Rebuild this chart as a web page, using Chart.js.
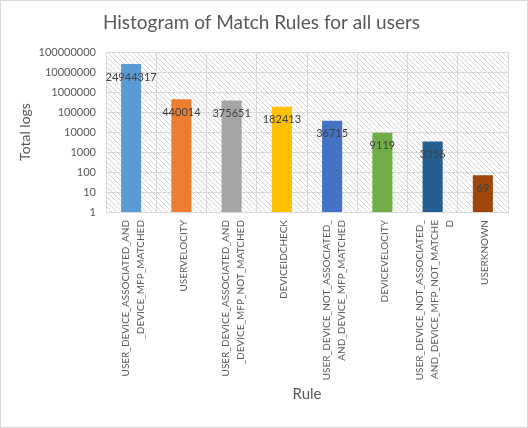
<!DOCTYPE html>
<html>
<head>
<meta charset="utf-8">
<script src="https://cdn.jsdelivr.net/npm/chart.js@4.4.1/dist/chart.umd.min.js"></script>
<style>
  html, body { margin: 0; padding: 0; background: #ffffff; }
  #wrap { width: 528px; height: 428px; position: relative; }
</style>
</head>
<body>
<div id="wrap"><canvas id="c" width="528" height="428"></canvas></div>
<script>
const categories = [
  ["USER_DEVICE_ASSOCIATED_AND", "_DEVICE_MFP_MATCHED"],
  ["USERVELOCITY"],
  ["USER_DEVICE_ASSOCIATED_AND", "_DEVICE_MFP_NOT_MATCHED"],
  ["DEVICEIDCHECK"],
  ["USER_DEVICE_NOT_ASSOCIATED_", "AND_DEVICE_MFP_MATCHED"],
  ["DEVICEVELOCITY"],
  ["USER_DEVICE_NOT_ASSOCIATED_", "AND_DEVICE_MFP_NOT_MATCHE", "D"],
  ["USERKNOWN"]
];
const totalLogs = [24944317, 440014, 375651, 182413, 36715, 9119, 3356, 69];
const barColors = ["#5B9BD5", "#ED7D31", "#A5A5A5", "#FFC000", "#4472C4", "#70AD47", "#255E91", "#9E480E"];
const yTicks = [1, 10, 100, 1000, 10000, 100000, 1000000, 10000000, 100000000];
const titleText = "Histogram of Match Rules for all users";
const yTitle = "Total logs";
const xTitle = "Rule";

const FONT = "Lato";
const TEXT = "#595959";
const GRID = "#d9d9d9";

function makeHatch() {
  const t = document.createElement('canvas');
  t.width = 5; t.height = 5;
  const g = t.getContext('2d');
  g.fillStyle = '#ffffff';
  g.fillRect(0, 0, 5, 5);
  g.fillStyle = '#d4d4d4';
  for (let i = 0; i < 5; i++) g.fillRect(i, i, 1, 1);
  return t;
}

const bgPlugin = {
  id: 'bg',
  beforeDraw(chart) {
    const ctx = chart.ctx, a = chart.chartArea;
    ctx.save();
    ctx.fillStyle = '#ffffff';
    ctx.fillRect(0, 0, chart.width, chart.height);
    ctx.fillStyle = ctx.createPattern(makeHatch(), 'repeat');
    ctx.fillRect(a.left, a.top, a.right - a.left, a.bottom - a.top);
    ctx.restore();
  },
  afterDraw(chart) {
    const ctx = chart.ctx;
    ctx.save();
    ctx.strokeStyle = GRID;
    ctx.lineWidth = 1;
    ctx.strokeRect(0.5, 0.5, chart.width - 1, chart.height - 1);
    // x category labels (rotated, multi-line, centred as a group)
    const xs = chart.scales.x;
    ctx.fillStyle = TEXT;
    ctx.font = "10px " + FONT;
    ctx.textAlign = 'right';
    ctx.textBaseline = 'middle';
    const lh = 15;
    categories.forEach((lines, i) => {
      const px = xs.getPixelForTick(i);
      const n = lines.length;
      lines.forEach((ln, j) => {
        const cx = px + 2 + (j - (n - 1) / 2) * lh;
        ctx.save();
        ctx.translate(cx, chart.chartArea.bottom + 8);
        ctx.rotate(-Math.PI / 2);
        ctx.fillText(ln, 0, 0);
        ctx.restore();
      });
    });
    ctx.restore();
  },
  afterDatasetsDraw(chart) {
    const ctx = chart.ctx;
    const meta = chart.getDatasetMeta(0);
    ctx.save();
    ctx.fillStyle = "#404040";
    ctx.font = "11px " + FONT;
    ctx.textAlign = 'center';
    ctx.textBaseline = 'middle';
    meta.data.forEach((bar, i) => {
      ctx.fillText(String(totalLogs[i]), bar.x, bar.y + 13);
    });
    ctx.restore();
  }
};

new Chart(document.getElementById('c'), {
  type: 'bar',
  data: {
    labels: categories,
    datasets: [{
      data: totalLogs,
      backgroundColor: barColors,
      borderWidth: 0,
      barPercentage: 0.4,
      categoryPercentage: 1.0
    }]
  },
  options: {
    responsive: false,
    animation: false,
    devicePixelRatio: 1,
    layout: { padding: { left: 15, right: 20, top: 0, bottom: 0 } },
    plugins: {
      legend: { display: false },
      tooltip: { enabled: false },
      title: {
        display: true,
        text: titleText,
        color: TEXT,
        font: { family: FONT, size: 19, weight: 'normal' },
        padding: { top: 11.6, bottom: 17.6 }
      }
    },
    scales: {
      x: {
        type: 'category',
        grid: { color: GRID, drawTicks: false, offset: true },
        border: { color: GRID },
        ticks: { display: false },
        title: {
          display: true, text: xTitle, color: TEXT,
          font: { family: FONT, size: 15 },
          padding: { top: 0, bottom: 25 }
        },
        afterFit(scale) { scale.height = 428 - 212 - 0; }
      },
      y: {
        type: 'logarithmic',
        min: 1,
        max: 100000000,
        grid: { color: GRID, drawTicks: false },
        border: { color: GRID },
        afterBuildTicks(scale) { scale.ticks = yTicks.map(v => ({ value: v })); },
        ticks: {
          color: TEXT,
          font: { family: FONT, size: 11 },
          padding: 10,
          callback: (v) => String(v)
        },
        title: {
          display: true, text: yTitle, color: TEXT,
          font: { family: FONT, size: 14 },
          padding: { top: 1.6, bottom: 0 }
        },
        afterFit(scale) { scale.width = 91; }
      }
    }
  },
  plugins: [bgPlugin]
});
</script>
</body>
</html>
